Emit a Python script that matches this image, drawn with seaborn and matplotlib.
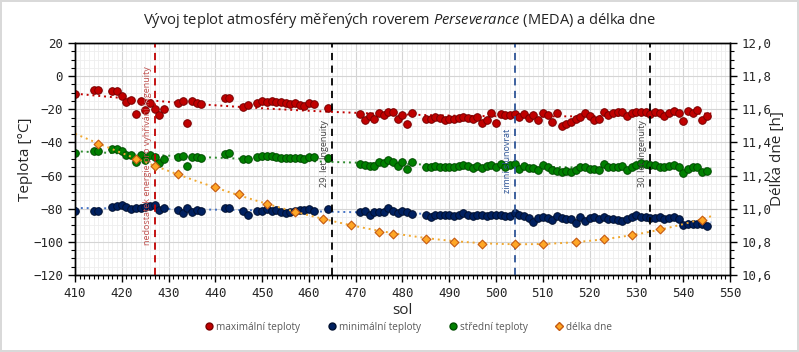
import numpy as np
import pandas as pd
import matplotlib
matplotlib.use('Agg')
from matplotlib import pyplot as plt
from matplotlib.ticker import MultipleLocator, FuncFormatter
from matplotlib.lines import Line2D
import seaborn as sns

# sols with MEDA measurements
sols = ([410, 414, 415] + list(range(418, 430)) + list(range(432, 438))
        + [442, 443, 446, 447] + list(range(449, 462)) + [464]
        + list(range(471, 483)) + list(range(485, 546)))

t_max = [-10.8, -8.5, -8.5,
         -8.9, -8.9, -11.8, -15.6, -14.4, -23.0, -14.8, -20.6, -16.0, -20.0, -23.6, -20.0,
         -16.2, -14.8, -28.5, -15.0, -16.4, -16.8,
         -13.2, -13.2, -18.6, -17.4,
         -16.0, -14.8, -15.6, -15.2, -15.6, -15.6, -16.2, -17.0, -16.4, -17.2, -18.0, -16.4, -16.6,
         -19.2,
         -23.0, -26.5, -23.9, -25.9, -22.0, -23.5, -21.4, -21.6, -25.9, -23.2, -28.9, -22.0,
         -25.7, -25.7, -24.5, -25.1, -26.3, -25.9, -25.9, -25.1, -24.5, -25.1, -25.9, -24.5,
         -28.5, -26.7, -22.4, -28.1, -22.7, -23.3, -23.3, -22.9, -24.5, -23.1, -25.1, -23.3,
         -26.7, -22.2, -23.3, -27.5, -22.4, -30.1, -29.1,
         -27.5, -25.9, -24.5, -22.0, -23.9, -26.5, -25.7, -21.6, -23.3, -22.4, -21.8, -21.6,
         -24.1, -22.0, -21.4, -21.4, -21.6, -23.1, -21.4, -22.4, -23.9, -22.0, -20.8, -22.0,
         -26.9, -21.0, -22.2, -20.4, -26.5, -24.1]

t_min = [-81.6, -81.2, -81.2,
         -79.0, -78.6, -77.8, -79.0, -80.4, -79.8, -79.4, -79.2, -78.4, -77.8, -80.8, -79.4,
         -80.8, -82.4, -79.4, -82.0, -81.0, -81.4,
         -79.8, -79.8, -81.4, -83.6,
         -81.2, -81.2, -80.0, -81.4, -80.8, -82.2, -82.8, -82.0, -81.4, -81.0, -81.0, -80.4, -81.4,
         -80.2,
         -82.2, -81.6, -83.8, -82.0, -82.2, -82.0, -79.8, -81.2, -82.8, -81.2, -82.0, -83.0,
         -83.8, -84.8, -83.8, -84.0, -84.0, -84.0, -84.4, -83.8, -82.6, -83.6, -84.4, -84.0,
         -84.0, -84.2, -83.6, -83.8, -83.6, -84.2, -84.6, -82.6, -83.8, -84.2, -85.4, -88.2,
         -85.4, -85.0, -85.4, -87.0, -84.4, -85.4, -86.0,
         -86.4, -88.8, -85.2, -87.6, -85.8, -85.2, -86.4, -85.2, -86.4, -86.4, -86.8, -87.6,
         -86.4, -85.2, -83.8, -84.8, -85.2, -85.4, -85.8, -84.8, -86.4, -85.8, -85.2, -86.4,
         -89.8, -89.2, -89.2, -89.2, -89.2, -90.4]

t_mean = [-46.2, -45.0, -45.0,
          -43.8, -44.0, -45.0, -47.6, -47.4, -51.8, -47.6, -50.6, -47.4, -49.0, -52.2, -50.0,
          -48.6, -48.4, -54.4, -48.6, -49.0, -49.4,
          -46.8, -46.6, -50.0, -50.0,
          -48.6, -48.2, -48.0, -48.2, -48.6, -49.2, -49.4, -49.4, -49.4, -49.2, -50.2, -49.0, -49.0,
          -49.6,
          -53.0, -53.8, -54.2, -54.0, -51.6, -52.6, -50.6, -51.6, -54.2, -51.8, -55.8, -52.0,
          -55.0, -55.0, -54.2, -54.6, -55.0, -55.0, -55.0, -54.2, -53.4, -54.2, -55.4, -54.2,
          -55.4, -54.2, -53.6, -55.0, -53.0, -55.0, -53.8, -53.0, -55.8, -54.2, -55.4, -55.6,
          -56.6, -53.4, -54.6, -56.6, -57.4, -57.8, -57.0,
          -58.0, -56.6, -55.0, -55.0, -55.8, -56.2, -56.6, -53.0, -55.0, -55.0, -54.6, -54.2,
          -56.6, -55.0, -53.6, -52.6, -53.0, -53.8, -53.8, -54.6, -55.0, -54.2, -53.6, -55.0,
          -58.6, -55.8, -55.0, -55.0, -57.6, -57.0]

# day length [h]
day_sols = [415, 423, 427, 432, 440, 445, 451, 457, 463, 469, 475, 478,
            485, 491, 497, 504, 510, 517, 523, 529, 535, 544]
day_len = [11.39, 11.30, 11.26, 11.21, 11.13, 11.09, 11.03, 10.98, 10.94, 10.90, 10.86, 10.85,
           10.82, 10.80, 10.79, 10.79, 10.79, 10.80, 10.82, 10.84, 10.88, 10.93]

events = [(427, 'nedostatek energie pro vyhřívání Ingenuity', '#c0504d', '#c00000', -48),
          (465, '29. let Ingenuity', '#404040', '#000000', -47),
          (504, 'zimní slunovrat', '#2f5597', '#2f5597', -51),
          (533, '30. let Ingenuity', '#404040', '#000000', -47)]

df = pd.DataFrame({'sol': sols, 'max': t_max, 'min': t_min, 'mean': t_mean})
dd = pd.DataFrame({'sol': day_sols, 'h': day_len})

sns.set_theme(style='white')
plt.rcParams['font.family'] = ['Open Sans', 'DejaVu Sans']
plt.rcParams['mathtext.fontset'] = 'custom'
plt.rcParams['mathtext.rm'] = 'Open Sans'
plt.rcParams['mathtext.it'] = 'Open Sans:italic'

fig = plt.figure(figsize=(7.99, 3.52), dpi=100)
fig.patch.set_edgecolor('#d9d9d9')
fig.patch.set_linewidth(1.5)
ax = fig.add_axes([0.0939, 0.2188, 0.8197, 0.659])
ax2 = ax.twinx()

xs = np.linspace(410, 546, 200)
series = [('max', '#c00000', '#7a0000', '#c00000'),
          ('min', '#002060', '#001030', '#4472c4'),
          ('mean', '#008000', '#004d00', '#2e8b2e')]
for col, fc, ec, tc in series:
    p = np.polyfit(df['sol'], df[col], 2)
    sns.lineplot(x=xs, y=np.polyval(p, xs), ax=ax, color=tc, lw=1.4,
                 linestyle=(0, (1, 2)), zorder=2)
    sns.scatterplot(data=df, x='sol', y=col, ax=ax, color=fc, edgecolor=ec,
                    linewidth=0.7, s=30, zorder=3)

for x, label, tcol, lcol, ypos in events:
    ax.axvline(x, color=lcol, lw=1.3, linestyle=(0, (4, 3)), zorder=4)
    ax.text(x - 1.6, ypos, label, rotation=90, ha='center', va='center',
            fontsize=6.5, color=tcol, zorder=5)

p = np.polyfit(dd['sol'], dd['h'], 3)
sns.lineplot(x=xs, y=np.polyval(p, xs), ax=ax2, color='#f0a830', lw=1.4,
             linestyle=(0, (1, 2)), zorder=2)
sns.scatterplot(data=dd, x='sol', y='h', ax=ax2, color='#ffa726', edgecolor='#c55a11',
                marker='D', linewidth=0.8, s=20, zorder=3)

ax.set_xlim(410, 550)
ax.set_ylim(-120, 20)
ax2.set_ylim(10.6, 12.0)
ax.xaxis.set_major_locator(MultipleLocator(10))
ax.xaxis.set_minor_locator(MultipleLocator(1))
ax.yaxis.set_major_locator(MultipleLocator(20))
ax.yaxis.set_minor_locator(MultipleLocator(5))
ax2.yaxis.set_major_locator(MultipleLocator(0.2))
ax2.yaxis.set_minor_locator(MultipleLocator(0.05))
ax2.yaxis.set_major_formatter(FuncFormatter(lambda v, pos: f'{v:.1f}'.replace('.', ',')))

ax.grid(which='major', color='#d4d4d4', lw=0.8)
ax.grid(which='minor', color='#eeeeee', lw=0.6)
ax.set_axisbelow(True)
for a in (ax, ax2):
    for s in a.spines.values():
        s.set_color('black')
        s.set_linewidth(1.0)
for a in (ax, ax2):
    a.tick_params(which='both', direction='out', color='black', labelsize=9)
    a.tick_params(which='major', length=5, width=1)
    a.tick_params(which='minor', length=3, width=0.8)
ax.tick_params(axis='y', which='both', left=True)
ax.tick_params(axis='x', which='both', bottom=True)
ax2.tick_params(axis='y', which='both', right=True)
for lab in ax.get_xticklabels() + ax.get_yticklabels() + ax2.get_yticklabels():
    lab.set_fontfamily('DejaVu Sans Mono')

ax.set_xlabel('sol', fontsize=11, labelpad=2)
ax.set_ylabel('Teplota [°C]', fontsize=11, labelpad=0)
ax2.set_ylabel('Délka dne [h]', fontsize=11, labelpad=-1)

fig.text(0.5, 0.943, r'Vývoj teplot atmosféry měřených roverem $\mathit{Perseverance}\ $(MEDA) a délka dne',
         ha='center', va='center', fontsize=10.5, color='#222222')

handles = [Line2D([], [], ls='', marker='o', ms=5, mfc='#c00000', mec='#7a0000'),
           Line2D([], [], ls='', marker='o', ms=5, mfc='#002060', mec='#001030'),
           Line2D([], [], ls='', marker='o', ms=5, mfc='#008000', mec='#004d00'),
           Line2D([], [], ls='', marker='D', ms=4, mfc='#ffa726', mec='#c55a11')]
labels = ['maximální teploty', 'minimální teploty', 'střední teploty', 'délka dne']
leg = fig.legend(handles, labels, loc='center', bbox_to_anchor=(0.51, 0.071), ncol=4,
                 frameon=False, fontsize=7.2, handletextpad=0.1, columnspacing=2.6,
                 handlelength=1.2)
for t in leg.get_texts():
    t.set_color('#595959')

fig.savefig('out.png', dpi=100)
